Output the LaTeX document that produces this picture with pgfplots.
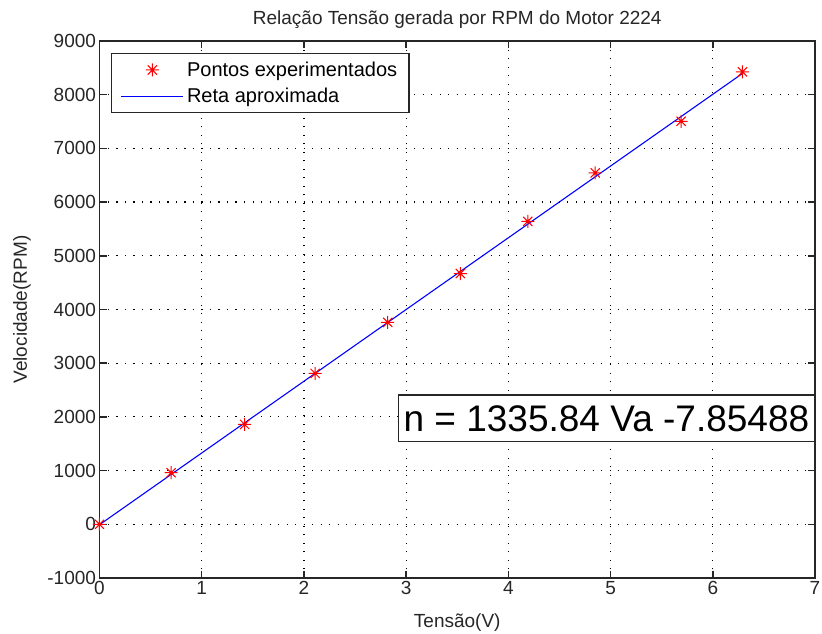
\documentclass[border=0pt]{standalone}
\usepackage{fontspec}
\setmainfont{Liberation Sans}
\usepackage{pgfplots}
\pgfplotsset{compat=1.18}

% MATLAB-like 8-arm asterisk
\pgfdeclareplotmark{mstar}{%
  \pgfpathmoveto{\pgfqpoint{-\pgfplotmarksize}{0pt}}%
  \pgfpathlineto{\pgfqpoint{\pgfplotmarksize}{0pt}}%
  \pgfpathmoveto{\pgfqpoint{0pt}{-\pgfplotmarksize}}%
  \pgfpathlineto{\pgfqpoint{0pt}{\pgfplotmarksize}}%
  \pgfpathmoveto{\pgfqpoint{-0.707\pgfplotmarksize}{-0.707\pgfplotmarksize}}%
  \pgfpathlineto{\pgfqpoint{0.707\pgfplotmarksize}{0.707\pgfplotmarksize}}%
  \pgfpathmoveto{\pgfqpoint{-0.707\pgfplotmarksize}{0.707\pgfplotmarksize}}%
  \pgfpathlineto{\pgfqpoint{0.707\pgfplotmarksize}{-0.707\pgfplotmarksize}}%
  \pgfusepathqstroke}

\newcommand\mfont{\fontsize{19}{22}\selectfont}

\begin{document}
\begin{tikzpicture}
  \begin{axis}[
      scale only axis,
      width=715.5pt, height=537pt,
      xmin=0, xmax=7,
      ymin=-1000, ymax=9000,
      xtick={0,1,...,7},
      ytick={-1000,0,1000,...,9000},
      /pgf/number format/assume math mode=true,
      scaled y ticks=false,
      yticklabel style={/pgf/number format/1000 sep={}},
      tick label style={font=\mfont, color=black!85},
      title style={font=\mfont, color=black!85,
        at={(axis description cs:0.5,1)}, anchor=base, yshift=10pt},
      title={Relação Tensão gerada por RPM do Motor 2224},
      every axis x label/.style={at={(axis description cs:0.5,0)},
        anchor=center, yshift=-45pt, font=\mfont, color=black!85},
      every axis y label/.style={at={([xshift=-77.5pt]axis description cs:0,0.5)},
        anchor=center, rotate=90, font=\mfont, color=black!85},
      xlabel={Tensão(V)},
      ylabel={Velocidade(RPM)},
      axis line style={line width=1.5pt, black!85},
      tick style={black!85, line width=1.5pt},
      tick align=inside,
      major tick length=7pt,
      grid=major,
      major grid style={black, line width=1.2pt, dash pattern=on 1.2pt off 7.3pt},
      legend style={
        at={(0,1)}, anchor=north west, xshift=11.5pt, yshift=-12pt,
        draw=black!85, line width=1.5pt,
        font=\fontsize{20}{23}\selectfont,
        cells={anchor=west}, inner xsep=9pt, inner ysep=5pt, row sep=4pt,
        nodes={inner sep=3pt, text depth=0.2em},
      },
    ]

    % measured points
    \addplot[only marks, red, mark=mstar, mark size=6.5pt, line width=1pt,
      legend image code/.code={\draw[draw=red, line width=1pt] plot[mark=mstar, mark size=6.5pt] coordinates {(31pt,0pt)}; \path (0pt,0pt) (62pt,0pt);}]
      coordinates {
      (0.00,0) (0.70,960) (1.42,1860) (2.11,2810) (2.82,3760)
      (3.53,4670) (4.19,5640) (4.85,6545) (5.69,7505) (6.29,8425)
    };
    \addlegendentry{Pontos experimentados}

    % fitted line n = 1335.84 Va - 7.85488
    \addplot[blue, line width=1.1pt,
      legend image code/.code={\draw[draw=blue, line width=1.3pt] (0pt,0pt) -- (62pt,0pt);}]
      coordinates {
      (0.00,-7.85) (6.29,8394.6)
    };
    \addlegendentry{Reta aproximada}

    \node[draw=black!85, line width=1.5pt, fill=white, anchor=east,
          inner xsep=5pt, inner ysep=10.5pt, text depth=0pt,
          font=\fontsize{37}{40}\selectfont]
      at (axis cs:7,1976) {n = 1335.84 Va -7.85488};
  \end{axis}
  \pgfresetboundingbox
  \path[use as bounding box] (current axis.south west) ++(-99.5pt,-56pt) rectangle ++(822pt,634pt);
\end{tikzpicture}
\end{document}
